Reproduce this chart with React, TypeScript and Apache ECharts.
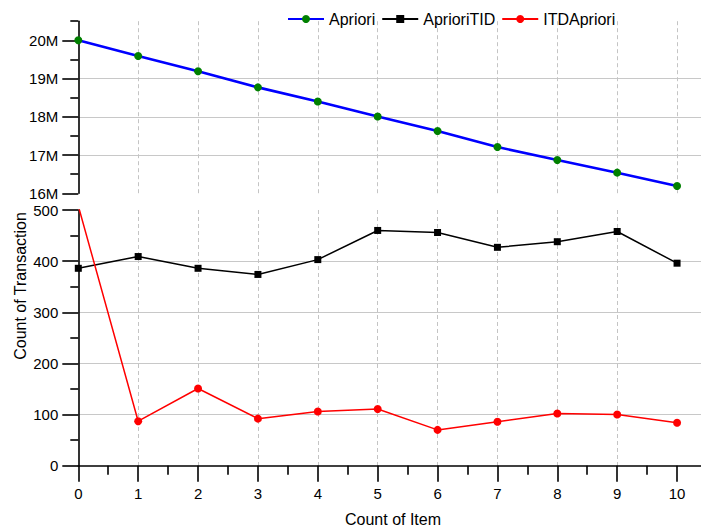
import React, { useEffect, useRef } from "react";
import * as echarts from "echarts";

const itemCounts = [0, 1, 2, 3, 4, 5, 6, 7, 8, 9, 10];
const aprioriValues = [20.0e6, 19.59e6, 19.19e6, 18.77e6, 18.4e6, 18.01e6, 17.63e6, 17.21e6, 16.87e6, 16.54e6, 16.19e6];
const aprioriTidValues = [386, 409, 386, 374, 403, 460, 456, 427, 438, 458, 396];
const itdAprioriValues = [508, 87, 151, 92, 106, 111, 70, 86, 102, 100, 84];

const xMajorTicks = [0, 1, 2, 3, 4, 5, 6, 7, 8, 9, 10];
const xMinorTicks = [0.5, 1.5, 2.5, 3.5, 4.5, 5.5, 6.5, 7.5, 8.5, 9.5];
const topMajorTicks = [16e6, 17e6, 18e6, 19e6, 20e6];
const topMinorTicks = [16.5e6, 17.5e6, 18.5e6, 19.5e6, 20.5e6];
const bottomMajorTicks = [0, 100, 200, 300, 400, 500];
const bottomMinorTicks = [50, 150, 250, 350, 450];

const FONT = "'Liberation Sans', Arial, Helvetica, sans-serif";

export default function App() {
  const ref = useRef<HTMLDivElement>(null);
  useEffect(() => {
    if (!ref.current) return;
    const chart = echarts.init(ref.current, null, { renderer: "svg" });
    const axisLine = { show: true, onZero: false, lineStyle: { color: "#000", width: 1.6 } };
    const hGrid = { show: true, showMinLine: false, showMaxLine: false, lineStyle: { color: "#c8c8c8", width: 1 } };
    const vGrid = { show: true, showMinLine: false, showMaxLine: false, lineStyle: { color: "#c4c4c4", width: 1, type: [4, 3] } };
    const labelStyle = { color: "#000", fontSize: 15, fontFamily: FONT };
    const pair = (ys: number[]) => itemCounts.map((x, i) => [x, ys[i]]);

    chart.setOption({
      animation: false,
      backgroundColor: "#fff",
      textStyle: { fontFamily: FONT },
      legend: {
        left: 282,
        top: 6,
        itemWidth: 36,
        itemHeight: 10,
        itemGap: 6,
        textStyle: { color: "#000", fontSize: 16, fontFamily: FONT },
        data: ["Apriori", "AprioriTID", "ITDApriori"],
      },
      grid: [
        { left: 78.3, right: 0, top: 21.2, height: 172.1 },
        { left: 78.3, right: 0, top: 210, height: 255.7 },
      ],
      xAxis: [
        {
          type: "value", gridIndex: 0, min: 0, max: 10.4, interval: 1,
          axisLine: { show: false }, axisTick: { show: false }, axisLabel: { show: false },
          splitLine: vGrid,
        },
        {
          type: "value", gridIndex: 1, position: "bottom", min: 0, max: 10.4, interval: 1,
          axisLine,
          axisTick: { show: true, length: 16, customValues: xMajorTicks, lineStyle: { color: "#000", width: 1.6 } },
          axisLabel: { ...labelStyle, margin: 20, customValues: xMajorTicks },
          splitLine: vGrid,
        },
        {
          type: "value", gridIndex: 1, position: "bottom", min: 0, max: 10.4, interval: 0.5,
          axisLine: { show: false },
          axisTick: { show: true, length: 9, customValues: xMinorTicks, lineStyle: { color: "#000", width: 1.6 } },
          axisLabel: { show: false },
          splitLine: { show: false },
        },
      ],
      yAxis: [
        {
          type: "value", gridIndex: 0, position: "left", min: 16e6, max: 20.5e6, interval: 1e6,
          axisLine,
          axisTick: { show: true, length: 16, customValues: topMajorTicks, lineStyle: { color: "#000", width: 1.6 } },
          axisLabel: { ...labelStyle, margin: 20, customValues: topMajorTicks, formatter: (v: number) => `${Math.round(v / 1e6)}M` },
          splitLine: hGrid,
        },
        {
          type: "value", gridIndex: 0, position: "left", min: 16e6, max: 20.5e6, interval: 0.5e6,
          axisLine: { show: false },
          axisTick: { show: true, length: 8, customValues: topMinorTicks, lineStyle: { color: "#000", width: 1.6 } },
          axisLabel: { show: false },
          splitLine: { show: false },
        },
        {
          type: "value", gridIndex: 1, position: "left", min: 0, max: 500, interval: 100,
          axisLine,
          axisTick: { show: true, length: 16, customValues: bottomMajorTicks, lineStyle: { color: "#000", width: 1.6 } },
          axisLabel: { ...labelStyle, margin: 20, customValues: bottomMajorTicks },
          splitLine: hGrid,
        },
        {
          type: "value", gridIndex: 1, position: "left", min: 0, max: 500, interval: 50,
          axisLine: { show: false },
          axisTick: { show: true, length: 8, customValues: bottomMinorTicks, lineStyle: { color: "#000", width: 1.6 } },
          axisLabel: { show: false },
          splitLine: { show: false },
        },
      ],
      series: [
        {
          name: "Apriori", type: "line", xAxisIndex: 0, yAxisIndex: 0,
          data: pair(aprioriValues),
          symbol: "circle", symbolSize: 8,
          lineStyle: { color: "#0000ff", width: 2.6 },
          itemStyle: { color: "#008000" },
        },
        {
          name: "AprioriTID", type: "line", xAxisIndex: 1, yAxisIndex: 2,
          data: pair(aprioriTidValues),
          symbol: "rect", symbolSize: 7,
          lineStyle: { color: "#000000", width: 1.5 },
          itemStyle: { color: "#000000" },
        },
        {
          name: "ITDApriori", type: "line", xAxisIndex: 1, yAxisIndex: 2,
          data: pair(itdAprioriValues),
          symbol: "circle", symbolSize: 8,
          lineStyle: { color: "#ff0000", width: 1.5 },
          itemStyle: { color: "#ff0000" },
        },
      ],
      graphic: [
        {
          type: "text", left: null, x: 393, y: 519,
          style: { text: "Count of Item", fill: "#000", font: `16px ${FONT}`, align: "center", verticalAlign: "middle" },
        },
        {
          type: "text", x: 20, y: 286, rotation: Math.PI / 2,
          style: { text: "Count of Transaction", fill: "#000", font: `16px ${FONT}`, align: "center", verticalAlign: "middle" },
        },
      ],
    });
    return () => chart.dispose();
  }, []);
  return <div ref={ref} style={{ position: "fixed", left: 0, top: 0, width: 701, height: 529 }} />;
}
